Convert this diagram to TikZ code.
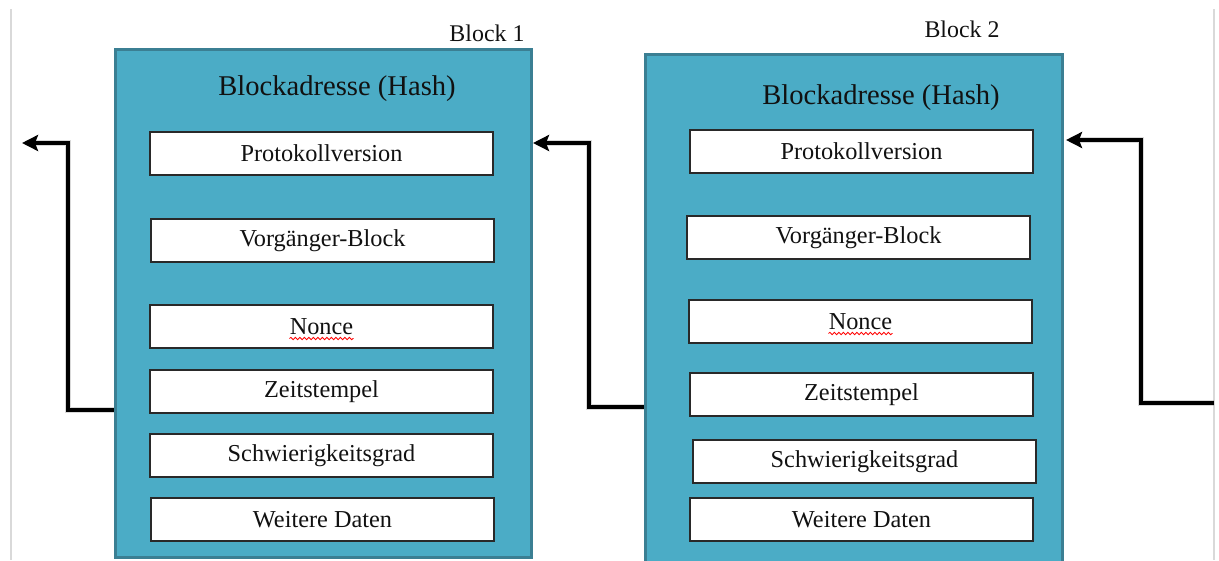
\documentclass[tikz,border=0pt]{standalone}
\usepackage{fontspec}
\setmainfont{Liberation Serif}
\usetikzlibrary{arrows.meta,decorations.pathmorphing}
\definecolor{blockfill}{HTML}{4BACC6}
\definecolor{blockedge}{HTML}{3B7F93}
\definecolor{pagegrey}{HTML}{D9D9D9}
\definecolor{inkblack}{HTML}{111111}
\begin{document}
\begin{tikzpicture}[x=1pt,y=-1pt,
  blockbox/.style={draw=blockedge, fill=blockfill, line width=3pt, inner sep=0pt, minimum width=416pt},
  fieldbox/.style={draw=inkblack!90, fill=white, line width=1.8pt, inner sep=0pt,
    minimum width=343pt, minimum height=43pt, text=inkblack,
    font=\fontsize{24.3}{28}\selectfont},
  titletext/.style={text=inkblack, inner sep=0pt, font=\fontsize{28.6}{32}\selectfont},
  labeltext/.style={text=inkblack, inner sep=0pt, font=\fontsize{23.9}{27}\selectfont},
  chainline/.style={draw=black, line width=4pt, -{Stealth[length=16pt,width=16pt,inset=3pt]}},
  chainshadow/.style={draw=black, opacity=0.15, line width=6pt},
  spellmark/.style={draw=red, line width=0.8pt, decorate, decoration={snake, amplitude=1.2pt, segment length=4.5pt}}
]
\useasboundingbox (0,0) rectangle (1219,560);
\fill[white] (0,0) rectangle (1219,560);
% page edges
\draw[pagegrey, line width=2pt] (11,9) -- (11,560);
\draw[pagegrey, line width=2pt] (1214,9) -- (1214,560);

% blocks
\node[blockbox, minimum height=508pt] (b1) at (323,303) {};
\node[blockbox, minimum width=417pt, minimum height=511pt] (b2) at (853.5,309.5) {};

% block labels
\node[labeltext] (l1) at (487,33) {Block 1};
\node[labeltext] (l2) at (962,29) {Block 2};

% titles
\node[titletext] (t1) at (337,89) {Blockadresse (Hash)};
\node[titletext] (t2) at (881,98) {Blockadresse (Hash)};

% block 1 fields
\node[fieldbox] (p1) at (321.5,153.5) {Protokollversion};
\node[fieldbox] (v1) at (322.5,240.5) {Vorgänger-Block};
\node[fieldbox] (n1) at (321.5,326.5) {Nonce};
\node[fieldbox] (z1) at (321.5,391.5) {Zeitstempel};
\node[fieldbox] (s1) at (321.5,455.5) {Schwierigkeitsgrad};
\node[fieldbox] (w1) at (322.5,519.5) {Weitere Daten};

% block 2 fields
\node[fieldbox] (p2) at (861.5,151.5) {Protokollversion};
\node[fieldbox] (v2) at (858.5,237.5) {Vorgänger-Block};
\node[fieldbox] (n2) at (860.5,321.5) {Nonce};
\node[fieldbox] (z2) at (861.5,394.5) {Zeitstempel};
\node[fieldbox] (s2) at (864.5,461.5) {Schwierigkeitsgrad};
\node[fieldbox] (w2) at (861.5,519.5) {Weitere Daten};

% spell-check marks
\draw[spellmark] ([shift={(-32,12)}]n1.center) -- ([shift={(32,12)}]n1.center);
\draw[spellmark] ([shift={(-32,12)}]n2.center) -- ([shift={(32,12)}]n2.center);

% chain connectors
\coordinate (c1) at (68,410);
\coordinate (e1) at (22,143);
\coordinate (c2) at (589,407);
\coordinate (e2) at (533,143);
\coordinate (s3) at (1214,403);
\coordinate (c3) at (1141,403);
\coordinate (e3) at (1066,140);

\draw[chainshadow, shift={(2,3)}] (b1.west |- c1) -- (c1) |- ([xshift=10]e1);
\draw[chainshadow, shift={(2,3)}] (b2.west |- c2) -- (c2) |- ([xshift=10]e2);
\draw[chainshadow, shift={(2,3)}] (s3) -- (c3) |- ([xshift=10]e3);

\draw[chainline] (b1.west |- c1) -- (c1) |- (e1);
\draw[chainline] (b2.west |- c2) -- (c2) |- (e2);
\draw[chainline] (s3) -- (c3) |- (e3);
\end{tikzpicture}
\end{document}
